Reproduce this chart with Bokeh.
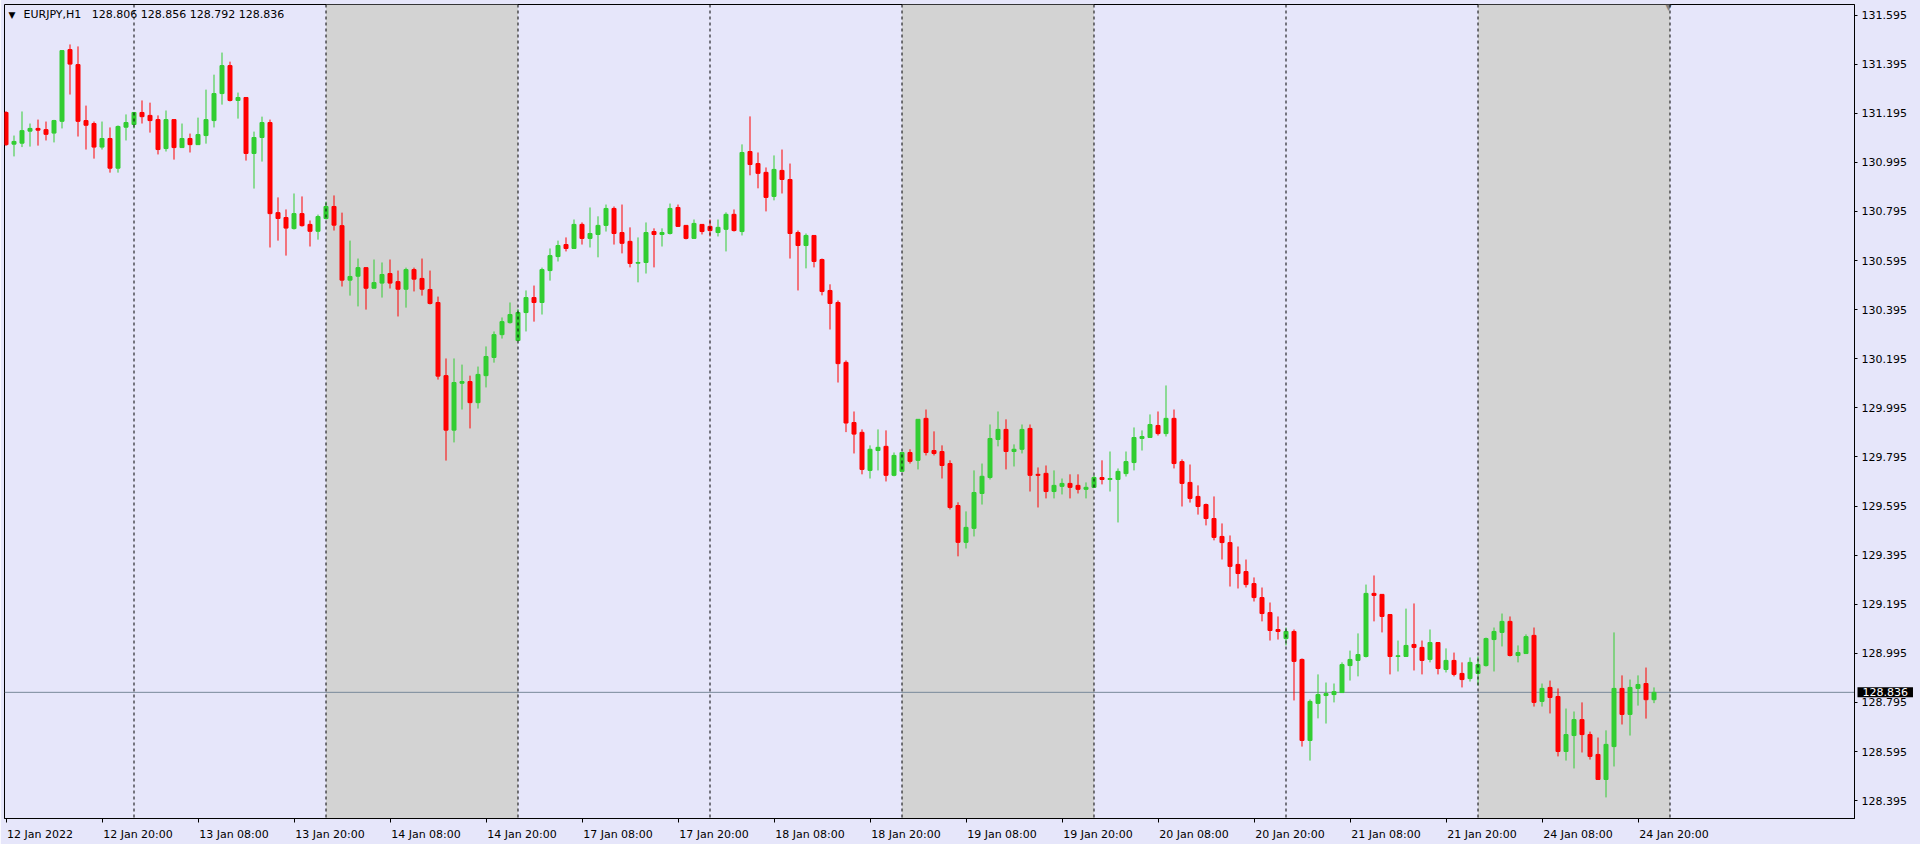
from bokeh.plotting import figure
from bokeh.models import (ColumnDataSource, FixedTicker, PrintfTickFormatter, Span,
                          BoxAnnotation, Label, Range1d)
from bokeh.embed import file_html
from bokeh.resources import INLINE

symbol = "EURJPY,H1"

opens = [131.198, 131.069, 131.073, 131.122, 131.133, 131.128, 131.114, 131.162, 131.454, 131.393,
         131.165, 131.153, 131.057, 131.092, 130.971, 131.138, 131.149, 131.198, 131.186, 131.169,
         131.051, 131.169, 131.055, 131.092, 131.067, 131.104, 131.165, 131.275, 131.389, 131.247,
         131.259, 131.031, 131.096, 131.157, 130.790, 130.770, 130.725, 130.786, 130.742, 130.714,
         130.766, 130.815, 130.737, 130.515, 130.531, 130.566, 130.482, 130.503, 130.542, 130.509,
         130.478, 130.558, 130.522, 130.477, 130.424, 130.126, 129.904, 130.095, 130.102, 130.016,
         130.126, 130.200, 130.293, 130.342, 130.269, 130.383, 130.444, 130.424, 130.554, 130.611,
         130.660, 130.644, 130.742, 130.685, 130.701, 130.738, 130.807, 130.709, 130.673, 130.584,
         130.587, 130.713, 130.701, 130.705, 130.811, 130.738, 130.685, 130.742, 130.734, 130.709,
         130.722, 130.783, 130.713, 131.039, 130.990, 130.954, 130.856, 130.962, 130.925, 130.709,
         130.656, 130.697, 130.599, 130.473, 130.424, 130.180, 129.935, 129.895, 129.740, 129.821,
         129.838, 129.720, 129.736, 129.813, 129.781, 129.952, 129.821, 129.817, 129.768, 129.597,
         129.447, 129.504, 129.646, 129.711, 129.866, 129.907, 129.817, 129.826, 129.911, 129.724,
         129.728, 129.654, 129.675, 129.687, 129.679, 129.663, 129.671, 129.711, 129.703, 129.703,
         129.727, 129.772, 129.870, 129.874, 129.923, 129.890, 129.952, 129.776, 129.691, 129.634,
         129.601, 129.544, 129.471, 129.446, 129.357, 129.328, 129.279, 129.222, 129.161, 129.092,
         129.055, 129.084, 128.970, 128.640, 128.791, 128.823, 128.827, 128.835, 128.945, 128.966,
         128.982, 129.239, 129.235, 129.153, 128.982, 128.982, 129.031, 129.019, 128.970, 129.039,
         128.929, 128.966, 128.913, 128.892, 128.913, 128.945, 129.051, 129.080, 129.125, 128.986,
         128.994, 129.068, 128.799, 128.856, 128.819, 128.595, 128.660, 128.725, 128.664, 128.583,
         128.481, 128.615, 128.852, 128.746, 128.852, 128.872, 128.806]

highs = [131.203, 131.104, 131.202, 131.153, 131.169, 131.161, 131.168, 131.450, 131.475, 131.467,
         131.226, 131.161, 131.161, 131.137, 131.145, 131.190, 131.200, 131.247, 131.238, 131.186,
         131.206, 131.169, 131.153, 131.112, 131.177, 131.291, 131.352, 131.442, 131.405, 131.279,
         131.259, 131.120, 131.181, 131.169, 130.852, 130.803, 130.868, 130.856, 130.758, 130.782,
         130.835, 130.860, 130.790, 130.676, 130.603, 130.566, 130.599, 130.587, 130.599, 130.554,
         130.566, 130.566, 130.603, 130.554, 130.448, 130.196, 130.196, 130.171, 130.126, 130.163,
         130.245, 130.306, 130.363, 130.424, 130.398, 130.473, 130.493, 130.566, 130.644, 130.676,
         130.689, 130.762, 130.750, 130.811, 130.775, 130.823, 130.815, 130.823, 130.730, 130.689,
         130.750, 130.726, 130.726, 130.827, 130.823, 130.738, 130.762, 130.742, 130.762, 130.762,
         130.791, 130.803, 131.068, 131.182, 131.035, 130.974, 131.023, 131.047, 130.990, 130.717,
         130.705, 130.697, 130.603, 130.498, 130.432, 130.188, 129.980, 129.907, 129.842, 129.907,
         129.903, 129.813, 129.813, 129.826, 129.948, 129.988, 129.899, 129.842, 129.781, 129.610,
         129.573, 129.740, 129.768, 129.927, 129.980, 129.948, 129.846, 129.927, 129.927, 129.752,
         129.760, 129.740, 129.707, 129.724, 129.724, 129.691, 129.720, 129.781, 129.817, 129.748,
         129.817, 129.915, 129.903, 129.968, 129.980, 130.086, 129.988, 129.785, 129.764, 129.679,
         129.605, 129.634, 129.524, 129.475, 129.430, 129.377, 129.304, 129.263, 129.202, 129.145,
         129.100, 129.092, 128.974, 128.807, 128.909, 128.876, 128.872, 128.958, 129.006, 129.076,
         129.275, 129.312, 129.235, 129.153, 129.047, 129.177, 129.198, 129.047, 129.092, 129.039,
         129.015, 128.998, 128.958, 128.978, 128.982, 129.059, 129.100, 129.157, 129.145, 129.027,
         129.072, 129.100, 128.872, 128.884, 128.852, 128.770, 128.758, 128.795, 128.676, 128.652,
         128.681, 129.080, 128.905, 128.888, 128.905, 128.937, 128.856]

lows = [131.062, 131.019, 131.057, 131.059, 131.063, 131.084, 131.076, 131.133, 131.271, 131.100,
        131.047, 131.010, 131.047, 130.953, 130.953, 131.084, 131.133, 131.153, 131.116, 131.027,
        131.039, 131.006, 131.055, 131.035, 131.067, 131.071, 131.137, 131.230, 131.243, 131.173,
        131.002, 130.888, 130.998, 130.648, 130.676, 130.615, 130.721, 130.733, 130.652, 130.680,
        130.762, 130.717, 130.489, 130.452, 130.408, 130.395, 130.482, 130.444, 130.481, 130.367,
        130.403, 130.469, 130.452, 130.416, 130.110, 129.780, 129.854, 129.988, 129.911, 129.992,
        130.078, 130.179, 130.277, 130.338, 130.266, 130.306, 130.346, 130.375, 130.513, 130.591,
        130.632, 130.644, 130.660, 130.648, 130.608, 130.713, 130.660, 130.624, 130.567, 130.506,
        130.542, 130.567, 130.652, 130.701, 130.734, 130.681, 130.685, 130.701, 130.693, 130.693,
        130.632, 130.713, 130.697, 130.942, 130.889, 130.795, 130.840, 130.868, 130.603, 130.473,
        130.563, 130.567, 130.453, 130.314, 130.098, 129.896, 129.809, 129.724, 129.707, 129.740,
        129.695, 129.716, 129.736, 129.768, 129.744, 129.801, 129.801, 129.707, 129.581, 129.390,
        129.422, 129.471, 129.601, 129.703, 129.838, 129.744, 129.756, 129.809, 129.654, 129.589,
        129.626, 129.626, 129.642, 129.626, 129.646, 129.626, 129.671, 129.683, 129.654, 129.528,
        129.715, 129.740, 129.821, 129.874, 129.882, 129.878, 129.748, 129.593, 129.609, 129.560,
        129.516, 129.455, 129.377, 129.267, 129.259, 129.263, 129.206, 129.125, 129.047, 129.051,
        129.027, 128.803, 128.615, 128.558, 128.730, 128.709, 128.795, 128.835, 128.884, 128.901,
        128.978, 129.125, 129.080, 128.909, 128.921, 128.982, 128.925, 128.909, 128.958, 128.909,
        128.917, 128.901, 128.856, 128.880, 128.864, 128.941, 128.921, 129.023, 128.982, 128.958,
        128.994, 128.778, 128.778, 128.750, 128.575, 128.558, 128.526, 128.591, 128.562, 128.481,
        128.408, 128.534, 128.705, 128.660, 128.782, 128.729, 128.792]

closes = [131.067, 131.080, 131.124, 131.133, 131.126, 131.109, 131.165, 131.450, 131.395, 131.162,
          131.146, 131.057, 131.092, 130.971, 131.141, 131.157, 131.198, 131.181, 131.165, 131.047,
          131.169, 131.055, 131.092, 131.067, 131.108, 131.169, 131.275, 131.389, 131.247, 131.259,
          131.031, 131.096, 131.157, 130.786, 130.766, 130.727, 130.786, 130.737, 130.714, 130.774,
          130.815, 130.739, 130.515, 130.530, 130.566, 130.482, 130.505, 130.538, 130.503, 130.478,
          130.558, 130.519, 130.478, 130.420, 130.124, 129.904, 130.098, 130.102, 130.016, 130.131,
          130.204, 130.293, 130.346, 130.375, 130.383, 130.444, 130.424, 130.558, 130.615, 130.656,
          130.644, 130.742, 130.685, 130.705, 130.738, 130.807, 130.705, 130.665, 130.583, 130.587,
          130.709, 130.701, 130.709, 130.807, 130.734, 130.685, 130.746, 130.713, 130.717, 130.730,
          130.783, 130.717, 131.035, 130.986, 130.950, 130.852, 130.966, 130.925, 130.705, 130.656,
          130.697, 130.591, 130.469, 130.420, 130.175, 129.933, 129.888, 129.744, 129.826, 129.834,
          129.720, 129.801, 129.813, 129.777, 129.948, 129.813, 129.809, 129.760, 129.589, 129.447,
          129.508, 129.650, 129.716, 129.870, 129.907, 129.817, 129.826, 129.907, 129.720, 129.720,
          129.654, 129.679, 129.687, 129.671, 129.663, 129.671, 129.711, 129.703, 129.707, 129.736,
          129.776, 129.874, 129.878, 129.927, 129.890, 129.952, 129.768, 129.687, 129.626, 129.593,
          129.544, 129.467, 129.446, 129.349, 129.320, 129.275, 129.222, 129.157, 129.088, 129.084,
          129.084, 128.962, 128.640, 128.799, 128.827, 128.831, 128.839, 128.949, 128.970, 128.990,
          129.239, 129.231, 129.145, 128.982, 128.985, 129.027, 129.019, 128.966, 129.039, 128.933,
          128.966, 128.909, 128.888, 128.958, 128.949, 129.055, 129.084, 129.125, 128.986, 128.998,
          129.063, 128.795, 128.852, 128.815, 128.595, 128.664, 128.725, 128.664, 128.575, 128.481,
          128.624, 128.852, 128.746, 128.856, 128.868, 128.806, 128.836]

# time axis: bar index of each labelled hour and its text
tick_bars = [0, 12, 24, 36, 48, 60, 72, 84, 96, 108, 120, 132, 144, 156, 168, 180, 192, 204]
tick_labels = ["12 Jan 2022", "12 Jan 20:00", "13 Jan 08:00", "13 Jan 20:00", "14 Jan 08:00",
               "14 Jan 20:00", "17 Jan 08:00", "17 Jan 20:00", "18 Jan 08:00", "18 Jan 20:00",
               "19 Jan 08:00", "19 Jan 20:00", "20 Jan 08:00", "20 Jan 20:00", "21 Jan 08:00",
               "21 Jan 20:00", "24 Jan 08:00", "24 Jan 20:00"]
day_start_bars = [16, 40, 64, 88, 112, 136, 160, 184, 208]
shaded_day_bars = [(40, 64), (112, 136), (184, 208)]
price_ticks = [128.395, 128.595, 128.795, 128.995, 129.195, 129.395, 129.595, 129.795,
               129.995, 130.195, 130.395, 130.595, 130.795, 130.995, 131.195, 131.395, 131.595]

BG = "#E6E6FA"
BULL = "#32CD32"
BEAR = "#FF0000"
FONT = "DejaVu Sans"

n = len(opens)
idx = list(range(n))
colors = [BULL if c >= o else BEAR for o, c in zip(opens, closes)]
src = ColumnDataSource(dict(
    x=idx, o=opens, h=highs, l=lows, c=closes,
    top=[max(o, c) for o, c in zip(opens, closes)],
    bottom=[min(o, c) for o, c in zip(opens, closes)],
    color=colors))

# canvas starts 20px above the page so that the hidden "above" panel
# (which holds the price tag) sits off-screen and the frame top lands at y=4
p = figure(width=1920, height=864, output_backend="svg", toolbar_location=None, tools="",
           x_range=Range1d(-0.1875, 231.0625), y_range=Range1d(128.3221, 131.6378),
           x_axis_location="below", y_axis_location="right",
           min_border_left=4, min_border_top=24, min_border_right=66, min_border_bottom=26,
           background_fill_color=BG, border_fill_color=BG,
           outline_line_color="black", outline_line_width=1)
p.styles = {"position": "absolute", "left": "0px", "top": "-20px"}
p.xgrid.visible = False
p.ygrid.visible = False

# weekday shading
for a, b in shaded_day_bars:
    p.add_layout(BoxAnnotation(left=a, right=b, fill_color="#D3D3D3", fill_alpha=1.0,
                               line_color=None, level="underlay"))

# bid line
p.add_layout(Span(location=closes[-1], dimension="width", line_color="#778899",
                  line_width=1, level="underlay"))

# candles
p.segment(x0="x", y0="l", x1="x", y1="h", color="color", line_width=1, source=src)
p.vbar(x="x", top="top", bottom="bottom", width=0.5, fill_color="color",
       line_color="color", line_width=1, source=src)

# period separators
for d in day_start_bars:
    p.add_layout(Span(location=d, dimension="height", line_color="black",
                      line_dash="3 3", line_width=1, level="overlay"))

# x axis: tick marks as minor ticks, labels left-aligned after each tick
label_pos = [b + (4.25 if i == 0 else 4.5) for i, b in enumerate(tick_bars)]
xa = p.xaxis[0]
xa.ticker = FixedTicker(ticks=label_pos, minor_ticks=tick_bars)
xa.major_label_overrides = {pos: lab for pos, lab in zip(label_pos, tick_labels)}
xa.major_tick_out = 0
xa.major_tick_in = 0
xa.minor_tick_out = 4
xa.minor_tick_in = 0
xa.minor_tick_line_color = "black"
xa.axis_line_color = "black"
xa.major_label_standoff = 5
xa.major_label_text_font = FONT
xa.major_label_text_font_size = "11px"
xa.major_label_text_color = "black"

ya = p.yaxis[0]
ya.ticker = FixedTicker(ticks=price_ticks)
ya.formatter = PrintfTickFormatter(format="%.3f")
ya.major_tick_out = 3
ya.major_tick_in = 0
ya.minor_tick_line_color = None
ya.axis_line_color = "black"
ya.major_tick_line_color = "black"
ya.major_label_standoff = 4
ya.major_label_text_font = FONT
ya.major_label_text_font_size = "11px"
ya.major_label_text_color = "black"

# header
p.add_layout(Label(x=4, y=803.5, x_units="screen", y_units="screen", text="\u25BC",
                   text_font=FONT, text_font_size="9px", text_color="black",
                   text_baseline="middle"))
header = "%s\u00a0\u00a0\u00a0%.3f %.3f %.3f %.3f" % (symbol, opens[-1], highs[-1], lows[-1], closes[-1])
p.add_layout(Label(x=19, y=803.7, x_units="screen", y_units="screen", text=header,
                   text_font=FONT, text_font_size="11px", text_color="black",
                   text_baseline="middle"))

# chart shift marker
p.add_layout(Label(x=1664, y=811, x_units="screen", y_units="screen", text="\u25BC",
                   text_font=FONT, text_font_size="8px", text_color="#808080",
                   text_align="center", text_baseline="middle"))

# current price tag (in a side panel so it is not clipped to the frame)
tag = Label(x=1857, y=closes[-1], x_units="canvas", y_units="data",
            text="%.3f" % closes[-1], text_font=FONT, text_font_size="11px",
            text_color="white", text_baseline="middle",
            background_fill_color="black", background_fill_alpha=1.0,
            padding=(5, 1))
p.add_layout(tag, "above")

open("out.html", "w").write(file_html(p, INLINE))
